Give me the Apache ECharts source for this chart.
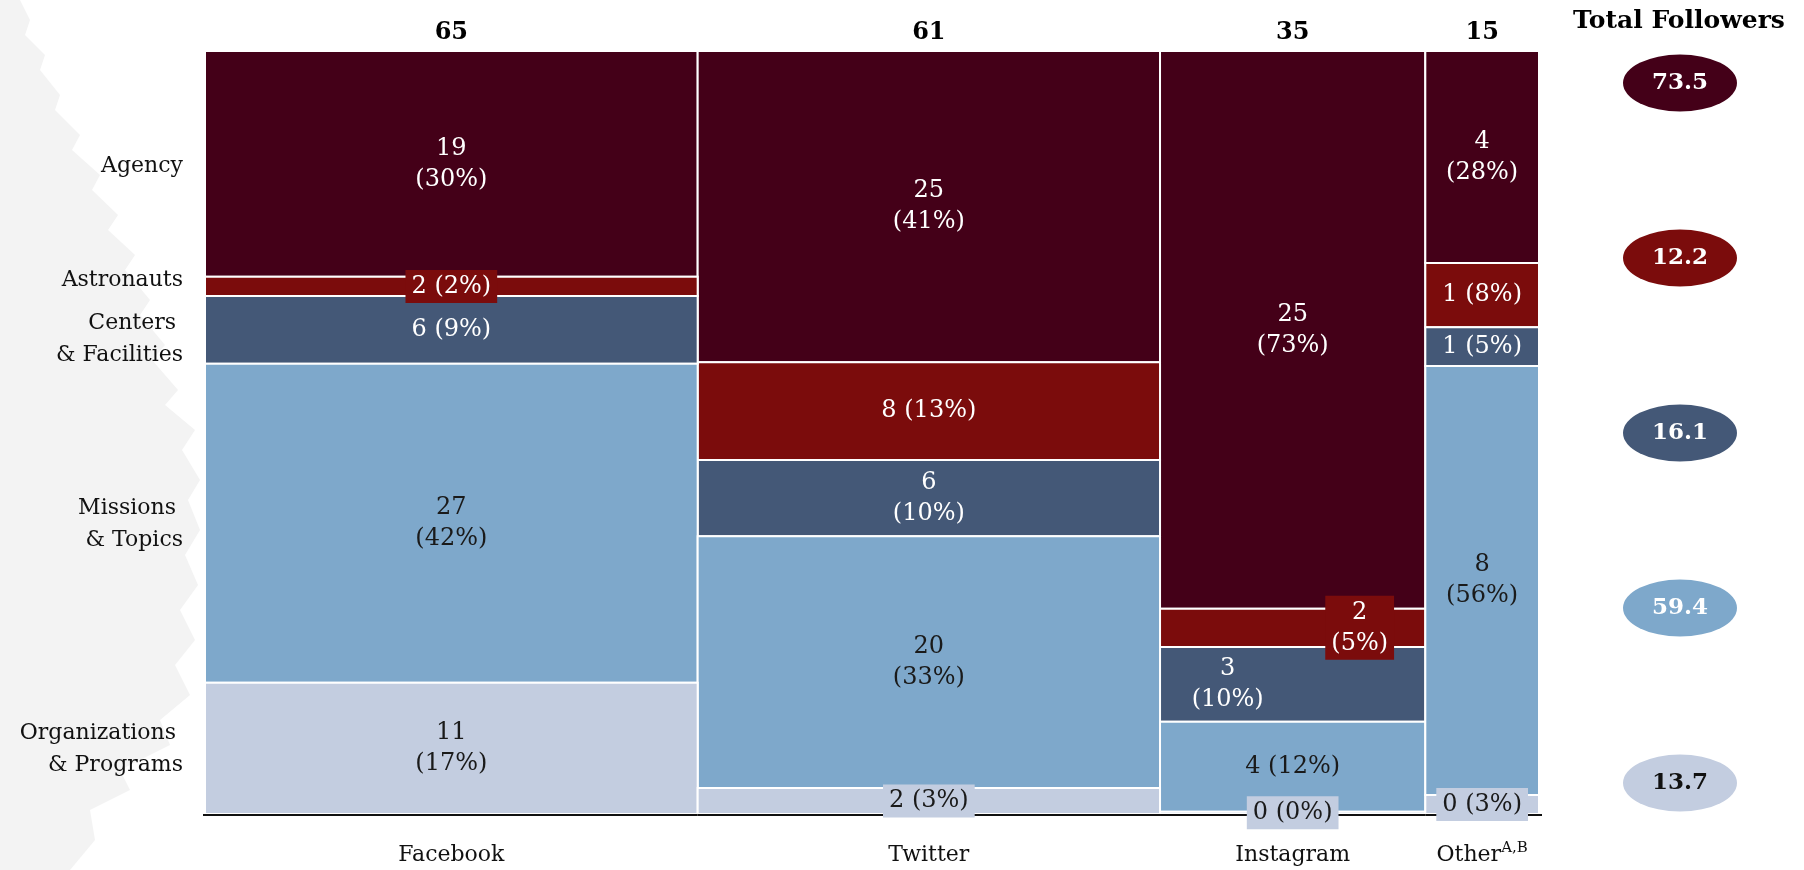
<!DOCTYPE html>
<html>
<head>
<meta charset="utf-8">
<title>Accounts and followers by platform</title>
<script src="https://cdn.jsdelivr.net/npm/echarts@6/dist/echarts.min.js"></script>
<style>
  html, body { margin: 0; padding: 0; background: #fff; }
  #main { width: 1804px; height: 870px; }
</style>
</head>
<body>
<div id="main"></div>
<script>
// columns: platforms, width = number of accounts
var platforms = ['Facebook', 'Twitter', 'Instagram', 'Other'];
var platformTotals = [65, 61, 35, 15];

// rows: account categories
var categories = ['Agency', 'Astronauts', 'Centers & Facilities', 'Missions & Topics', 'Organizations & Programs'];

// accounts per platform (as printed)
var agencyCounts = [19, 25, 25, 4];
var astronautCounts = [2, 8, 2, 1];
var centerCounts = [6, 6, 3, 1];
var missionCounts = [27, 20, 4, 8];
var orgCounts = [11, 2, 0, 0];

// percent of the column (as printed)
var agencyPct = [30, 41, 73, 28];
var astronautPct = [2, 13, 5, 8];
var centerPct = [9, 10, 10, 5];
var missionPct = [42, 33, 12, 56];
var orgPct = [17, 3, 0, 3];

// share of the column height
var agencyShare = [29.6, 40.8, 73.1, 27.8];
var astronautShare = [2.5, 12.8, 5.0, 8.4];
var centerShare = [8.9, 10.0, 9.8, 5.1];
var missionShare = [41.8, 33.0, 11.8, 56.2];
var orgShare = [17.2, 3.4, 0.3, 2.5];

// total followers (millions) per category
var totalFollowers = [73.5, 12.2, 16.1, 59.4, 13.7];

var counts = [agencyCounts, astronautCounts, centerCounts, missionCounts, orgCounts];
var pcts = [agencyPct, astronautPct, centerPct, missionPct, orgPct];
var shares = [agencyShare, astronautShare, centerShare, missionShare, orgShare];

var colors = ['#440018', '#7b0c0c', '#445877', '#7ea8cb', '#c3cde0'];
var textColors = ['#fff', '#fff', '#fff', '#1a1a1a', '#1a1a1a'];
var rowNames = ['Agency', 'Astronauts', 'Centers \n& Facilities', 'Missions \n& Topics', 'Organizations \n& Programs'];
var rowNameShift = [2, -6, 9, 1, 1];

var FONT = '"DejaVu Serif", "Liberation Serif", serif';

// label tweaks (key = category|platform)
var oneLine = {
  'Astronauts|Facebook': 1, 'Centers & Facilities|Facebook': 1,
  'Astronauts|Twitter': 1, 'Organizations & Programs|Twitter': 1,
  'Missions & Topics|Instagram': 1, 'Organizations & Programs|Instagram': 1,
  'Astronauts|Other': 1, 'Centers & Facilities|Other': 1, 'Organizations & Programs|Other': 1
};
var boxed = {
  'Astronauts|Facebook': 1, 'Organizations & Programs|Twitter': 1,
  'Astronauts|Instagram': 1, 'Organizations & Programs|Instagram': 1,
  'Organizations & Programs|Other': 1
};
var nudgeX = { 'Astronauts|Instagram': 67, 'Centers & Facilities|Instagram': -65 };

// x start of each column
var starts = [];
var acc = 0;
platformTotals.forEach(function (t) { starts.push(acc); acc += t; });
var xMax = acc;

function cellRenderer(c) {
  return function (params, api) {
    var col = params.dataIndex;
    var tl = api.coord([api.value(0), api.value(3)]);
    var br = api.coord([api.value(1), api.value(2)]);
    var key = categories[c] + '|' + platforms[col];
    var children = [];
    if (br[1] - tl[1] > 0.5) {
      children.push({
        type: 'rect',
        shape: { x: tl[0], y: tl[1], width: br[0] - tl[0], height: br[1] - tl[1] },
        style: { fill: colors[c], stroke: '#fff', lineWidth: 2 }
      });
    }
    var txt = counts[c][col] + (oneLine[key] ? ' ' : '\n') + '(' + pcts[c][col] + '%)';
    children.push({
      type: 'text',
      z2: 100,
      x: (tl[0] + br[0]) / 2 + (nudgeX[key] || 0),
      y: (tl[1] + br[1]) / 2,
      style: {
        text: txt,
        fill: textColors[c],
        font: '24px ' + FONT,
        lineHeight: 31,
        align: 'center',
        verticalAlign: 'middle',
        backgroundColor: boxed[key] ? colors[c] : null,
        padding: boxed[key] ? [1, 6, 1, 6] : 0
      }
    });
    if (col === 0) {
      children.push({
        type: 'text',
        x: tl[0] - 22,
        y: (tl[1] + br[1]) / 2 + rowNameShift[c],
        style: {
          text: rowNames[c],
          fill: '#111',
          font: '22px ' + FONT,
          lineHeight: 32,
          align: 'right',
          verticalAlign: 'middle'
        }
      });
    }
    return { type: 'group', children: children };
  };
}

var cellSeries = categories.map(function (cat, c) {
  var data = platforms.map(function (p, col) {
    var below = 0;
    for (var k = c + 1; k < categories.length; k++) below += shares[k][col];
    return [starts[col], starts[col] + platformTotals[col], below, below + shares[c][col]];
  });
  return {
    name: cat,
    type: 'custom',
    xAxisIndex: 0,
    yAxisIndex: 0,
    renderItem: cellRenderer(c),
    encode: { x: [0, 1], y: [2, 3] },
    data: data
  };
});

// column totals on top, platform names and the base line below
var platformSeries = {
  type: 'custom',
  xAxisIndex: 0,
  yAxisIndex: 0,
  renderItem: function (params, api) {
    var i = params.dataIndex;
    var top = api.coord([(api.value(0) + api.value(1)) / 2, 100]);
    var bottom = api.coord([(api.value(0) + api.value(1)) / 2, 0]);
    var b0 = api.coord([api.value(0), 0]);
    var b1 = api.coord([api.value(1), 0]);
    var name = platforms[i] === 'Other' ? '{a|Other}{s|A,B}' : '{a|' + platforms[i] + '}';
    return {
      type: 'group',
      children: [{
        type: 'line',
        z2: 50,
        shape: { x1: b0[0] - (i === 0 ? 2 : 0), y1: b0[1] + 1, x2: b1[0] + (i === 3 ? 3 : 0), y2: b1[1] + 1 },
        style: { stroke: '#111', lineWidth: 2 }
      }, {
        type: 'text',
        x: top[0], y: top[1] - 18,
        style: {
          text: String(platformTotals[i]),
          fill: '#000',
          font: 'bold 24px ' + FONT,
          align: 'center',
          verticalAlign: 'middle'
        }
      }, {
        type: 'text',
        x: bottom[0], y: bottom[1] + 41,
        style: {
          text: name,
          align: 'center',
          verticalAlign: 'middle',
          rich: {
            a: { fontFamily: FONT, fontSize: 22, fill: '#111', color: '#111', lineHeight: 28 },
            s: { fontFamily: FONT, fontSize: 15, fill: '#111', color: '#111', lineHeight: 28, verticalAlign: 'top', padding: [0, 0, 12, 0] }
          }
        }
      }]
    };
  },
  encode: { x: [0, 1] },
  data: platforms.map(function (p, i) { return [starts[i], starts[i] + platformTotals[i]]; })
};

var followerSeries = {
  type: 'scatter',
  xAxisIndex: 1,
  yAxisIndex: 1,
  symbol: 'circle',
  symbolSize: [114, 57],
  itemStyle: { opacity: 1 },
  data: totalFollowers.map(function (v, i) {
    return {
      value: [0, categories[i]],
      itemStyle: { color: colors[i], opacity: 1 },
      label: { color: i === 4 ? '#111' : '#fff' }
    };
  }),
  label: {
    show: true,
    position: 'inside',
    fontFamily: FONT,
    fontWeight: 'bold',
    fontSize: 23,
    formatter: function (p) { return totalFollowers[p.dataIndex].toFixed(1); }
  }
};

var tree = [[0, 0], [20, 0], [30, 20], [25, 35], [45, 55], [40, 70], [60, 95], [55, 110], [80, 135],
  [72, 150], [100, 175], [92, 190], [118, 215], [108, 230], [135, 255], [125, 270], [150, 300],
  [140, 315], [165, 345], [152, 360], [178, 390], [165, 405], [195, 430], [182, 450], [200, 480],
  [188, 500], [200, 530], [185, 555], [198, 585], [180, 610], [195, 640], [175, 665], [190, 695],
  [160, 720], [170, 745], [120, 770], [130, 790], [90, 810], [95, 840], [70, 870], [0, 870]];

var myChart = echarts.init(document.getElementById('main'));
myChart.setOption({
  animation: false,
  backgroundColor: '#fff',
  graphic: [{
    type: 'polygon',
    z: -10,
    shape: { points: tree },
    style: { fill: '#f3f3f3' },
    silent: true
  }, {
    type: 'text',
    x: 1679, y: 21,
    style: {
      text: 'Total Followers',
      fill: '#000',
      font: 'bold 25px ' + FONT,
      align: 'center',
      verticalAlign: 'middle'
    }
  }],
  grid: [
    { left: 205, right: 265, top: 51, bottom: 56 },
    { left: 1620, width: 120, top: 83, height: 700 }
  ],
  xAxis: [{
    type: 'value', min: 0, max: xMax, gridIndex: 0, show: false
  }, {
    type: 'value', min: -1, max: 1, gridIndex: 1, show: false
  }],
  yAxis: [{
    type: 'value', min: 0, max: 100, gridIndex: 0, show: false
  }, {
    type: 'category', data: categories, inverse: true, boundaryGap: false, gridIndex: 1, show: false
  }],
  series: cellSeries.concat([platformSeries, followerSeries])
});

window.addEventListener('resize', function () {
  myChart.resize();
});
</script>
</body>
</html>
